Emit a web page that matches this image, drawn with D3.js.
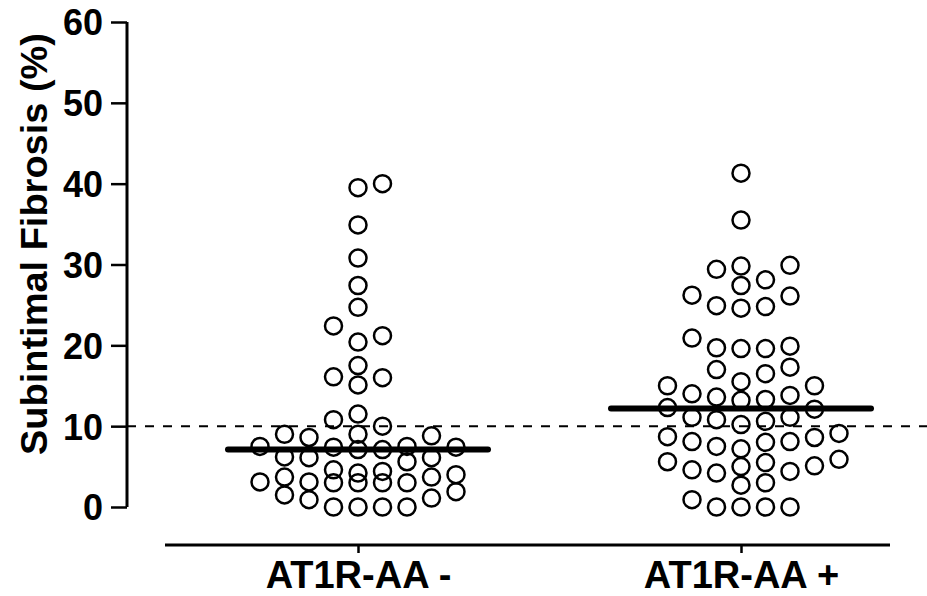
<!DOCTYPE html>
<html>
<head>
<meta charset="utf-8">
<script src="https://cdn.jsdelivr.net/npm/d3@7"></script>
<style>
  html, body { margin: 0; padding: 0; background: #fff; }
  svg { display: block; }
  text { font-family: "Liberation Sans", Arial, sans-serif; font-weight: bold; fill: #000; }
</style>
</head>
<body>
<svg id="chart" width="927" height="596"></svg>
<script>
// ---- data ----
const categories = ["AT1R-AA -", "AT1R-AA +"];
const negValues = [
  40.0, 39.5, 34.9, 30.8, 27.4, 24.7, 22.4, 21.2, 20.4, 17.5, 16.1, 16.0, 15.1,
  11.5, 10.8, 10.0, 9.0, 9.0, 8.8, 8.6,
  7.5, 7.4, 7.1, 7.1, 7.4, 7.5,
  6.2, 6.1, 6.1, 5.6,
  4.6, 4.4, 4.2, 4.0, 3.7, 3.7, 3.1, 3.1, 3.0, 3.0, 3.0, 3.0,
  1.9, 1.5, 1.1, 0.9,
  0, 0, 0, 0
];
const posValues = [
  41.3, 35.5,
  29.8, 28.1, 29.4, 29.9, 27.4, 26.1, 24.8, 24.6, 24.9, 26.2,
  20.9, 19.7, 19.6, 19.6, 19.9,
  17.0, 16.5, 17.3,
  15.0, 15.0, 15.5,
  14.0, 13.6, 13.8, 13.2, 13.3,
  12.1, 12.3,
  11.1, 10.6, 10.2, 10.8, 11.1,
  8.7, 8.1, 8.0, 7.2, 7.5, 8.1, 8.6, 9.1,
  5.6, 5.0, 4.6, 4.2, 3.0, 4.4, 5.1, 5.5, 5.9,
  2.7,
  0.9, 0, 0, 0, 0
];
const yTicks = [0, 10, 20, 30, 40, 50, 60];
const referenceLine = 10;
const yTitle = "Subintimal Fibrosis (%)";

// ---- layout ----
const svg = d3.select("#chart");
const y = d3.scaleLinear().domain([0, 60]).range([507, 22]);
const x = d3.scalePoint().domain(categories).range([358, 741]);

const R = 8.5;           // marker radius
const colStep = 24.5;    // column spacing of the scatter
const maxCols = 4;
const minGap = 17;       // px vertical clearance in a column

function swarm(values, cx) {
  const sorted = values.map((v, i) => ({ v, i })).sort((a, b) => a.v - b.v || a.i - b.i);
  const order = [0];
  for (let k = 1; k <= maxCols; k++) order.push(k, -k);
  const cols = new Map(order.map(k => [k, []]));
  const out = [];
  sorted.forEach(d => {
    const py = y(d.v);
    let chosen = null, best = null, bestGap = -1;
    for (const k of order) {
      const ys = cols.get(k);
      const gap = ys.length ? d3.min(ys, q => Math.abs(q - py)) : Infinity;
      if (gap >= minGap) { chosen = k; break; }
      if (gap > bestGap) { bestGap = gap; best = k; }
    }
    if (chosen === null) chosen = best;
    cols.get(chosen).push(py);
    out.push({ v: d.v, x: cx + chosen * colStep, y: py });
  });
  return out;
}

const groups = [
  { name: categories[0], values: negValues },
  { name: categories[1], values: posValues }
];

// y axis
const yAxis = d3.axisLeft(y).tickValues(yTicks).tickSize(16).tickPadding(8).tickFormat(d3.format("d"));
const gy = svg.append("g").attr("transform", "translate(127,0)").call(yAxis);
gy.select(".domain").attr("stroke-width", 3).attr("d", `M0,${y(60)}V${y(0)}`);
gy.selectAll(".tick line").attr("stroke-width", 2.5);
gy.selectAll(".tick text").style("font-size", "36px").attr("dy", "0.36em");

// y title
svg.append("text")
  .attr("transform", `translate(47,244) rotate(-90)`)
  .attr("text-anchor", "middle")
  .attr("textLength", 422)
  .attr("lengthAdjust", "spacingAndGlyphs")
  .style("font-size", "37px")
  .text(yTitle);

// x axis
svg.append("line")
  .attr("x1", 165).attr("x2", 890)
  .attr("y1", 545).attr("y2", 545)
  .attr("stroke", "#000").attr("stroke-width", 3);
const xAxis = d3.axisBottom(x).tickSize(8);
const gx = svg.append("g").attr("transform", "translate(0,545)").call(xAxis);
gx.select(".domain").remove();
gx.selectAll(".tick line").attr("stroke-width", 2.5);
gx.selectAll(".tick text").style("font-size", "38px").attr("y", 43).attr("dy", 0);

// reference dashed line
svg.append("line")
  .attr("x1", 127).attr("x2", 927)
  .attr("y1", y(referenceLine)).attr("y2", y(referenceLine))
  .attr("stroke", "#000").attr("stroke-width", 2)
  .attr("stroke-dasharray", "9,9");

// points and medians
groups.forEach(g => {
  const cx = x(g.name);
  const pts = swarm(g.values, cx);
  svg.append("g").selectAll("circle").data(pts).join("circle")
    .attr("cx", d => d.x).attr("cy", d => d.y).attr("r", R)
    .attr("fill", "none").attr("stroke", "#000").attr("stroke-width", 2.5);
  const med = d3.median(g.values);
  svg.append("line")
    .attr("x1", cx - 130).attr("x2", cx + 130)
    .attr("y1", y(med)).attr("y2", y(med))
    .attr("stroke", "#000").attr("stroke-width", 6).attr("stroke-linecap", "round");
});
</script>
</body>
</html>
